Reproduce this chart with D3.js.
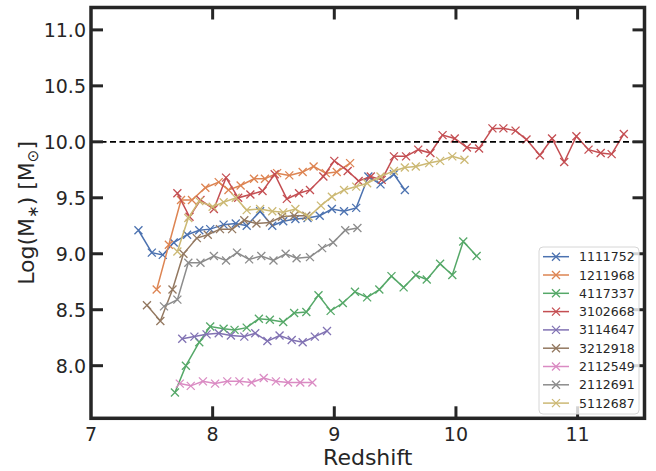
<!DOCTYPE html>
<html lang="en">
<head>
<meta charset="UTF-8" />
<script src="https://cdnjs.cloudflare.com/ajax/libs/d3/7.8.5/d3.min.js"></script>
<title>Stellar mass vs redshift</title>
<style>
body { margin: 0; background: #fff; }
svg { display: block; font-family: "DejaVu Sans", sans-serif; }
</style>
</head>
<body>
<svg id="chart" width="656" height="471"></svg>
<script>

// galaxy ids (legend order)
const ids = ['1111752', '1211968', '4117337', '3102668', '3114647', '3212918', '2112549', '2112691', '5112687'];
const colors = ['#4C72B0', '#DD8452', '#55A868', '#C44E52', '#8172B3', '#937860', '#DA8BC3', '#8C8C8C', '#CCB974'];

// redshift / log stellar mass
const z1111752 = [7.39, 7.50, 7.59, 7.68, 7.79, 7.89, 7.98, 8.09, 8.19, 8.28, 8.39, 8.49, 8.58, 8.68, 8.78, 8.88, 8.98, 9.08, 9.18, 9.28, 9.38, 9.49, 9.58];
const m1111752 = [9.21, 9.01, 8.99, 9.10, 9.17, 9.21, 9.22, 9.26, 9.27, 9.25, 9.38, 9.25, 9.29, 9.31, 9.32, 9.34, 9.40, 9.38, 9.41, 9.69, 9.62, 9.71, 9.57];

const z1211968 = [7.54, 7.64, 7.74, 7.83, 7.94, 8.05, 8.13, 8.23, 8.34, 8.43, 8.53, 8.63, 8.74, 8.83, 8.93, 9.02, 9.13];
const m1211968 = [8.68, 9.08, 9.48, 9.48, 9.59, 9.64, 9.57, 9.61, 9.67, 9.67, 9.72, 9.70, 9.73, 9.78, 9.72, 9.73, 9.81];

const z4117337 = [7.69, 7.78, 7.89, 7.98, 8.09, 8.18, 8.28, 8.38, 8.47, 8.58, 8.67, 8.77, 8.87, 8.97, 9.07, 9.17, 9.27, 9.37, 9.47, 9.57, 9.67, 9.76, 9.87, 9.97, 10.06, 10.17];
const m4117337 = [7.76, 8.00, 8.21, 8.35, 8.33, 8.32, 8.34, 8.42, 8.41, 8.39, 8.47, 8.48, 8.63, 8.49, 8.56, 8.66, 8.61, 8.68, 8.80, 8.70, 8.81, 8.77, 8.91, 8.81, 9.11, 8.98];

const z3102668 = [7.71, 7.81, 7.90, 8.01, 8.11, 8.21, 8.31, 8.41, 8.51, 8.61, 8.71, 8.80, 8.91, 9.00, 9.11, 9.20, 9.30, 9.39, 9.49, 9.59, 9.69, 9.79, 9.89, 9.99, 10.09, 10.19, 10.30, 10.39, 10.49, 10.58, 10.69, 10.79, 10.89, 10.99, 11.09, 11.19, 11.28, 11.38];
const m3102668 = [9.54, 9.33, 9.48, 9.40, 9.68, 9.50, 9.53, 9.56, 9.71, 9.49, 9.54, 9.57, 9.69, 9.83, 9.74, 9.65, 9.69, 9.66, 9.87, 9.87, 9.93, 9.90, 10.06, 10.03, 9.95, 9.94, 10.12, 10.12, 10.10, 10.02, 9.88, 10.03, 9.82, 10.05, 9.93, 9.90, 9.89, 10.07];

const z3114647 = [7.75, 7.85, 7.95, 8.05, 8.15, 8.26, 8.35, 8.45, 8.55, 8.65, 8.74, 8.84, 8.94];
const m3114647 = [8.24, 8.26, 8.28, 8.29, 8.27, 8.26, 8.29, 8.22, 8.27, 8.23, 8.21, 8.26, 8.31];

const z3212918 = [7.46, 7.57, 7.67, 7.76, 7.87, 7.96, 8.06, 8.16, 8.26, 8.36, 8.47, 8.57, 8.67, 8.77];
const m3212918 = [8.54, 8.40, 8.68, 9.00, 9.14, 9.17, 9.22, 9.22, 9.30, 9.27, 9.28, 9.33, 9.34, 9.34];

const z2112549 = [7.73, 7.82, 7.92, 8.02, 8.12, 8.22, 8.32, 8.42, 8.52, 8.62, 8.72, 8.82];
const m2112549 = [7.84, 7.82, 7.86, 7.84, 7.86, 7.86, 7.85, 7.89, 7.86, 7.85, 7.85, 7.85];

const z2112691 = [7.60, 7.71, 7.80, 7.90, 8.01, 8.11, 8.20, 8.30, 8.40, 8.50, 8.60, 8.69, 8.80, 8.90, 8.99, 9.09, 9.19];
const m2112691 = [8.53, 8.59, 8.92, 8.92, 8.98, 8.94, 9.01, 8.95, 8.98, 8.94, 9.00, 8.96, 8.97, 9.05, 9.10, 9.21, 9.23];

const z5112687 = [7.71, 7.80, 7.89, 8.00, 8.09, 8.19, 8.28, 8.39, 8.49, 8.58, 8.68, 8.79, 8.89, 8.98, 9.08, 9.18, 9.27, 9.38, 9.49, 9.58, 9.67, 9.78, 9.87, 9.97, 10.07];
const m5112687 = [9.02, 9.32, 9.47, 9.42, 9.46, 9.50, 9.39, 9.40, 9.38, 9.37, 9.40, 9.33, 9.43, 9.51, 9.57, 9.60, 9.63, 9.69, 9.74, 9.77, 9.78, 9.81, 9.83, 9.87, 9.84];

const xTicks = [7, 8, 9, 10, 11];
const yTicks = [8.0, 8.5, 9.0, 9.5, 10.0, 10.5, 11.0];
const threshold = 10.0;

const zs = [z1111752, z1211968, z4117337, z3102668, z3114647, z3212918, z2112549, z2112691, z5112687];
const ms = [m1111752, m1211968, m4117337, m3102668, m3114647, m3212918, m2112549, m2112691, m5112687];
const series = ids.map((id, i) => ({
  id: id,
  color: colors[i],
  points: zs[i].map((z, j) => ({ z: z, m: ms[i][j] }))
}));

const svg = d3.select('#chart');
const pLeft = 91, pRight = 644.5, pTop = 7.5, pBottom = 418.3;
const ink = '#262626';

const x = d3.scaleLinear().domain([7, 11.55]).range([pLeft, pRight]);
const y = d3.scaleLinear().domain([7.53, 11.2]).range([pBottom, pTop]);

const plot = svg.append('g');

const line = d3.line().x(d => x(d.z)).y(d => y(d.m));

series.forEach(s => {
  const g = plot.append('g');
  g.append('path')
    .attr('d', line(s.points))
    .attr('fill', 'none')
    .attr('stroke', s.color)
    .attr('stroke-width', 1.5);
  g.selectAll('path.mk')
    .data(s.points)
    .enter().append('path')
    .attr('class', 'mk')
    .attr('d', d => {
      const cx = x(d.z), cy = y(d.m), r = 4;
      return `M${cx - r},${cy - r}L${cx + r},${cy + r}M${cx - r},${cy + r}L${cx + r},${cy - r}`;
    })
    .attr('stroke', s.color)
    .attr('stroke-width', 1.3);
});

// horizontal reference line
plot.append('line')
  .attr('x1', pLeft).attr('x2', pRight)
  .attr('y1', y(threshold)).attr('y2', y(threshold))
  .attr('stroke', '#000')
  .attr('stroke-width', 1.8)
  .attr('stroke-dasharray', '6,3.5');

// inward ticks on all four sides
const tickLen = 12;
const axes = svg.append('g').attr('stroke', ink).attr('stroke-width', 3);
yTicks.forEach(v => {
  axes.append('line').attr('x1', pLeft).attr('x2', pLeft + tickLen).attr('y1', y(v)).attr('y2', y(v));
  axes.append('line').attr('x1', pRight).attr('x2', pRight - tickLen).attr('y1', y(v)).attr('y2', y(v));
});
xTicks.filter(v => v > 7).forEach(v => {
  axes.append('line').attr('x1', x(v)).attr('x2', x(v)).attr('y1', pBottom).attr('y2', pBottom - tickLen);
  axes.append('line').attr('x1', x(v)).attr('x2', x(v)).attr('y1', pTop).attr('y2', pTop + tickLen);
});

svg.append('rect')
  .attr('x', pLeft).attr('y', pTop)
  .attr('width', pRight - pLeft).attr('height', pBottom - pTop)
  .attr('fill', 'none')
  .attr('stroke', ink)
  .attr('stroke-width', 3.5);

// tick labels
svg.append('g').selectAll('text')
  .data(yTicks)
  .enter().append('text')
  .attr('x', 86)
  .attr('y', d => y(d))
  .attr('dy', '0.36em')
  .attr('text-anchor', 'end')
  .attr('font-size', 19)
  .attr('fill', ink)
  .text(d => d.toFixed(1));

svg.append('g').selectAll('text')
  .data(xTicks)
  .enter().append('text')
  .attr('x', d => x(d))
  .attr('y', 441)
  .attr('text-anchor', 'middle')
  .attr('font-size', 19)
  .attr('fill', ink)
  .text(d => d);

// axis labels
svg.append('text')
  .attr('x', (pLeft + pRight) / 2)
  .attr('y', 465)
  .attr('text-anchor', 'middle')
  .attr('font-size', 22)
  .attr('fill', ink)
  .text('Redshift');

const ylab = svg.append('text')
  .attr('transform', `translate(34,${(pTop + pBottom) / 2}) rotate(-90)`)
  .attr('text-anchor', 'middle')
  .attr('font-size', 22)
  .attr('fill', ink);
ylab.append('tspan').text('Log(M');
ylab.append('tspan').attr('font-size', 15).attr('dy', 4).text('\u2217');
ylab.append('tspan').attr('dy', -4).text(') [M');
ylab.append('tspan').attr('font-size', 15).attr('dy', 4).text('\u2299');
ylab.append('tspan').attr('dy', -4).text(']');

// legend
const lg = svg.append('g');
lg.append('rect')
  .attr('x', 539).attr('y', 247)
  .attr('width', 100).attr('height', 167)
  .attr('rx', 4)
  .attr('fill', '#fff').attr('fill-opacity', 0.8)
  .attr('stroke', '#d6d6d6').attr('stroke-width', 1);

series.forEach((s, i) => {
  const ly = 256.7 + i * 18.3;
  lg.append('line')
    .attr('x1', 543).attr('x2', 569)
    .attr('y1', ly).attr('y2', ly)
    .attr('stroke', s.color).attr('stroke-width', 1.5);
  lg.append('path')
    .attr('d', `M552,${ly - 4}L560,${ly + 4}M552,${ly + 4}L560,${ly - 4}`)
    .attr('stroke', s.color).attr('stroke-width', 1.3);
  lg.append('text')
    .attr('x', 579).attr('y', ly)
    .attr('dy', '0.36em')
    .attr('font-size', 12.5)
    .attr('fill', ink)
    .text(s.id);
});

</script>
</body>
</html>
